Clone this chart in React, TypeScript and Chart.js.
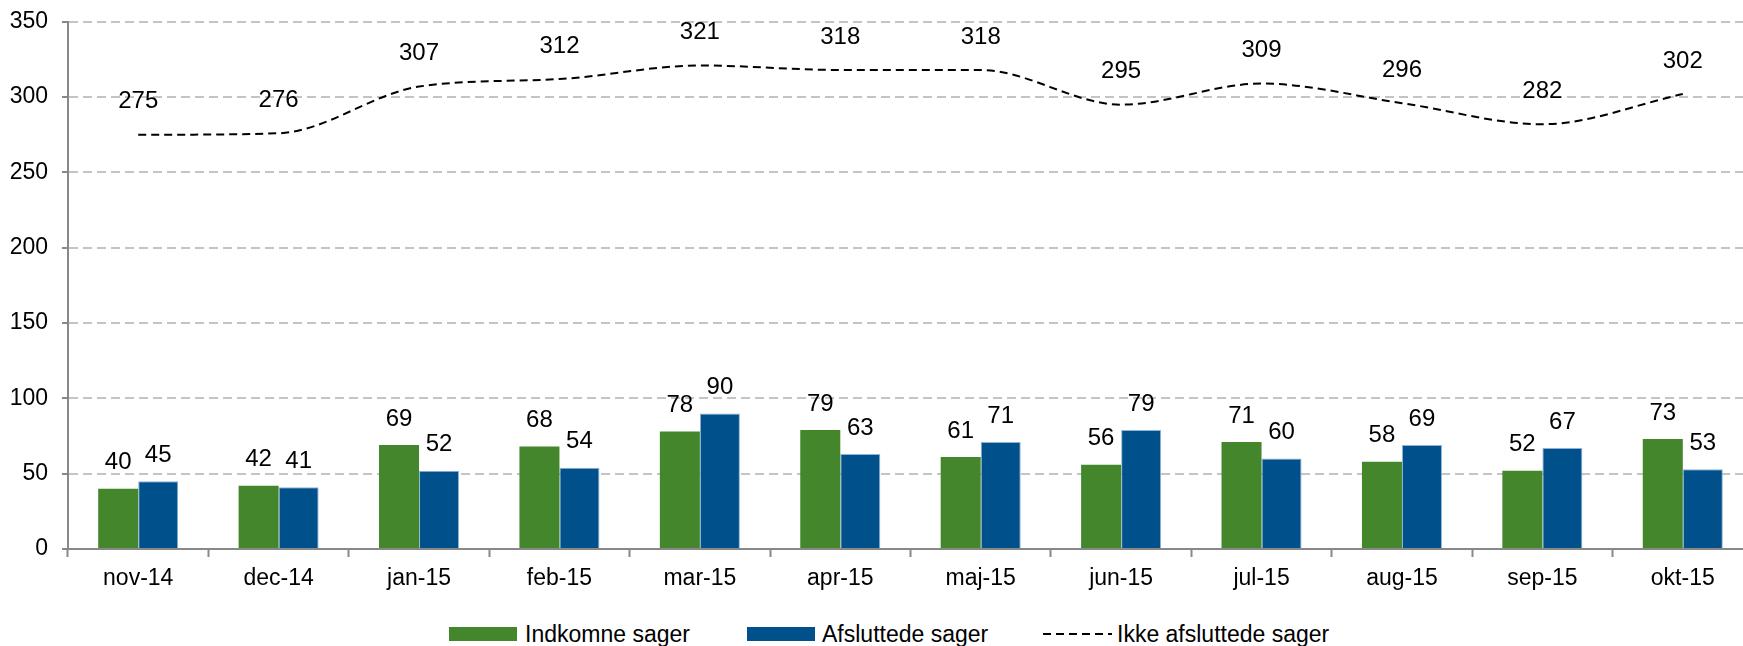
import React, { useEffect, useRef } from "react";
import { Chart, registerables } from "chart.js";

Chart.register(...registerables);

const categories = ["nov-14", "dec-14", "jan-15", "feb-15", "mar-15", "apr-15", "maj-15", "jun-15", "jul-15", "aug-15", "sep-15", "okt-15"];
const incoming = [40, 42, 69, 68, 78, 79, 61, 56, 71, 58, 52, 73];
const closed = [45, 41, 52, 54, 90, 63, 71, 79, 60, 69, 67, 53];
const open = [275, 276, 307, 312, 321, 318, 318, 295, 309, 296, 282, 302];
const yTicks = [0, 50, 100, 150, 200, 250, 300, 350];

const seriesNames = ["Indkomne sager", "Afsluttede sager", "Ikke afsluttede sager"];
const GREEN = "#43862B";
const BLUE = "#00508C";
const FONT = "'Liberation Sans', Arial, sans-serif";

const labelPlugin = {
  id: "valueLabels",
  afterDatasetsDraw(chart: any) {
    const ctx = chart.ctx;
    ctx.save();
    ctx.font = `24px ${FONT}`;
    ctx.fillStyle = "#000";
    ctx.textAlign = "center";
    ctx.textBaseline = "middle";
    chart.data.datasets.forEach((ds: any, i: number) => {
      const meta = chart.getDatasetMeta(i);
      const off = ds.type === "line" ? 33 : 26;
      meta.data.forEach((el: any, j: number) => {
        ctx.fillText(String(ds.data[j]), el.x, el.y - off);
      });
    });
    ctx.restore();
  },
};

export default function App() {
  const ref = useRef<HTMLCanvasElement>(null);
  useEffect(() => {
    if (!ref.current) return;
    const chart = new Chart(ref.current, {
      type: "bar",
      data: {
        labels: categories,
        datasets: [
          {
            type: "line",
            label: seriesNames[2],
            data: open,
            borderColor: "#000",
            borderWidth: 2,
            borderDash: [8, 5],
            pointRadius: 0,
            cubicInterpolationMode: "monotone",
            fill: false,
            order: 0,
          } as any,
          {
            label: seriesNames[0],
            data: incoming,
            backgroundColor: GREEN,
            borderWidth: 0,
            categoryPercentage: 0.57,
            barPercentage: 1.0,
            order: 1,
          },
          {
            label: seriesNames[1],
            data: closed,
            backgroundColor: BLUE,
            borderColor: "#8fb3d6",
            borderWidth: 1,
            categoryPercentage: 0.57,
            barPercentage: 1.0,
            order: 1,
          },
        ],
      },
      options: {
        animation: false,
        responsive: false,
        devicePixelRatio: 1,
        layout: { padding: { top: 15, left: 0, right: 7, bottom: 0 } },
        plugins: {
          legend: { display: false },
          tooltip: { enabled: false },
        },
        scales: {
          x: {
            offset: true,
            grid: {
              offset: true,
              drawOnChartArea: false,
              drawTicks: true,
              tickLength: 8,
              tickColor: "#888",
              tickWidth: 2,
              color: "#888",
            },
            border: { display: true, color: "#888", width: 2 },
            ticks: { color: "#000", font: { family: FONT, size: 23 }, padding: 8, maxRotation: 0, autoSkip: false },
            afterFit: (s: any) => { s.height = 45; },
          },
          y: {
            min: 0,
            max: 350,
            afterBuildTicks: (s: any) => { s.ticks = yTicks.map((v) => ({ value: v })); },
            grid: {
              color: "#c4c4c4",
              lineWidth: 2,
              drawTicks: true,
              tickLength: 6,
              tickColor: "#888",
              tickWidth: 2,
              tickBorderDash: [],
            },
            border: { display: true, color: "#888", width: 2, dash: [9, 5] },
            ticks: { color: "#000", font: { family: FONT, size: 23 }, padding: 14 },
            afterFit: (s: any) => { s.width = 68; },
          },
        },
      },
      plugins: [labelPlugin],
    });
    return () => chart.destroy();
  }, []);

  const textStyle: React.CSSProperties = {
    position: "absolute",
    top: 620,
    height: 28,
    lineHeight: "28px",
    fontFamily: FONT,
    fontSize: 23,
    color: "#000",
    whiteSpace: "nowrap",
  };

  return (
    <div style={{ position: "fixed", left: 0, top: 0, width: 1743, height: 646, overflow: "hidden", background: "#fff" }}>
      <canvas ref={ref} width={1760} height={600} style={{ position: "absolute", left: 0, top: -6, width: 1760, height: 600 }} />
      <div style={{ position: "absolute", left: 449, top: 627, width: 68, height: 14, background: GREEN }} />
      <div style={{ ...textStyle, left: 525 }}>{seriesNames[0]}</div>
      <div style={{ position: "absolute", left: 747, top: 627, width: 68, height: 14, background: BLUE }} />
      <div style={{ ...textStyle, left: 822 }}>{seriesNames[1]}</div>
      <svg style={{ position: "absolute", left: 1043, top: 628 }} width={70} height={12}>
        <line x1={0} y1={6} x2={69} y2={6} stroke="#000" strokeWidth={2} strokeDasharray="8,5" />
      </svg>
      <div style={{ ...textStyle, left: 1117 }}>{seriesNames[2]}</div>
    </div>
  );
}
